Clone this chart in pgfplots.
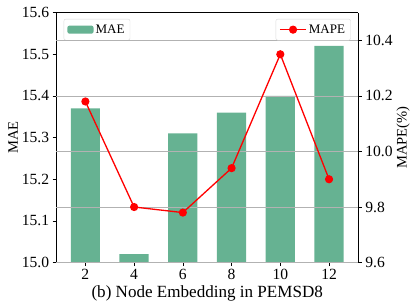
\documentclass[border=0pt]{standalone}
\usepackage{pgfplots}
\pgfplotsset{compat=1.18}
\usepackage{fontspec}
\setmainfont{Liberation Serif}
\definecolor{barg}{RGB}{102,178,146}
\begin{document}
\begin{tikzpicture}
\pgfplotsset{
  every axis/.append style={
    scale only axis, width=301pt, height=249pt,
    xmin=0.8, xmax=13.2,
    tick style={black, thin},
    major tick length=3.5pt,
    tick align=outside,
    /pgf/number format/assume math mode=true,
    tick label style={font=\fontsize{15.5}{15.5}\selectfont},
    label style={font=\fontsize{14.5}{14.5}\selectfont},
  }
}
\begin{axis}[
  axis y line*=left,
  ymin=15.0, ymax=15.6,
  ytick={15.0,15.1,15.2,15.3,15.4,15.5,15.6},
  yticklabel style={/pgf/number format/.cd, fixed, fixed zerofill, precision=1},
  xtick={2,4,6,8,10,12},
  xtick pos=bottom,
  ylabel={MAE},
  ylabel style={yshift=-3pt},
  xlabel={(b) Node Embedding in PEMSD8},
  xlabel style={font=\fontsize{17}{17}\selectfont, yshift=1pt},
  legend style={at={(0.025,0.975)}, anchor=north west, draw=black!15, rounded corners=2pt,
    font=\fontsize{13}{13}\selectfont, inner sep=3.5pt},
  legend image code/.code={\fill[barg] (0pt,-4pt) rectangle (26pt,4pt);},
]
\addplot[ybar, bar width=1.2, bar shift=0pt, fill=barg, draw=none] coordinates {
(2,15.37) (4,15.02) (6,15.31) (8,15.36) (10,15.40) (12,15.52)};
\addlegendentry{MAE}
\end{axis}
\begin{axis}[
  axis y line*=right,
  axis x line=none,
  ymin=9.6, ymax=10.5,
  ytick={9.6,9.8,10.0,10.2,10.4},
  yticklabel style={/pgf/number format/.cd, fixed, fixed zerofill, precision=1},
  ymajorgrids, grid style={black!30, line width=0.6pt},
  ylabel={MAPE(\%)},
  ylabel style={yshift=3pt},
  legend style={at={(0.975,0.975)}, anchor=north east, draw=black!15, rounded corners=2pt,
    font=\fontsize{13}{13}\selectfont, inner sep=3.5pt},
  legend image code/.code={\draw[#1] (0pt,0pt) -- (13pt,0pt) -- (26pt,0pt); \draw[#1, only marks] plot coordinates {(13pt,0pt)};},
]
\addplot[red, line width=1.3pt, mark=*, mark size=3.4pt, mark options={fill=red}] coordinates {
(2,10.18) (4,9.80) (6,9.78) (8,9.94) (10,10.35) (12,9.90)};
\addlegendentry{MAPE}
\end{axis}
\path ([shift={(-5pt,-3pt)}]current bounding box.south west) rectangle ([shift={(3pt,4pt)}]current bounding box.north east);
\end{tikzpicture}
\end{document}
